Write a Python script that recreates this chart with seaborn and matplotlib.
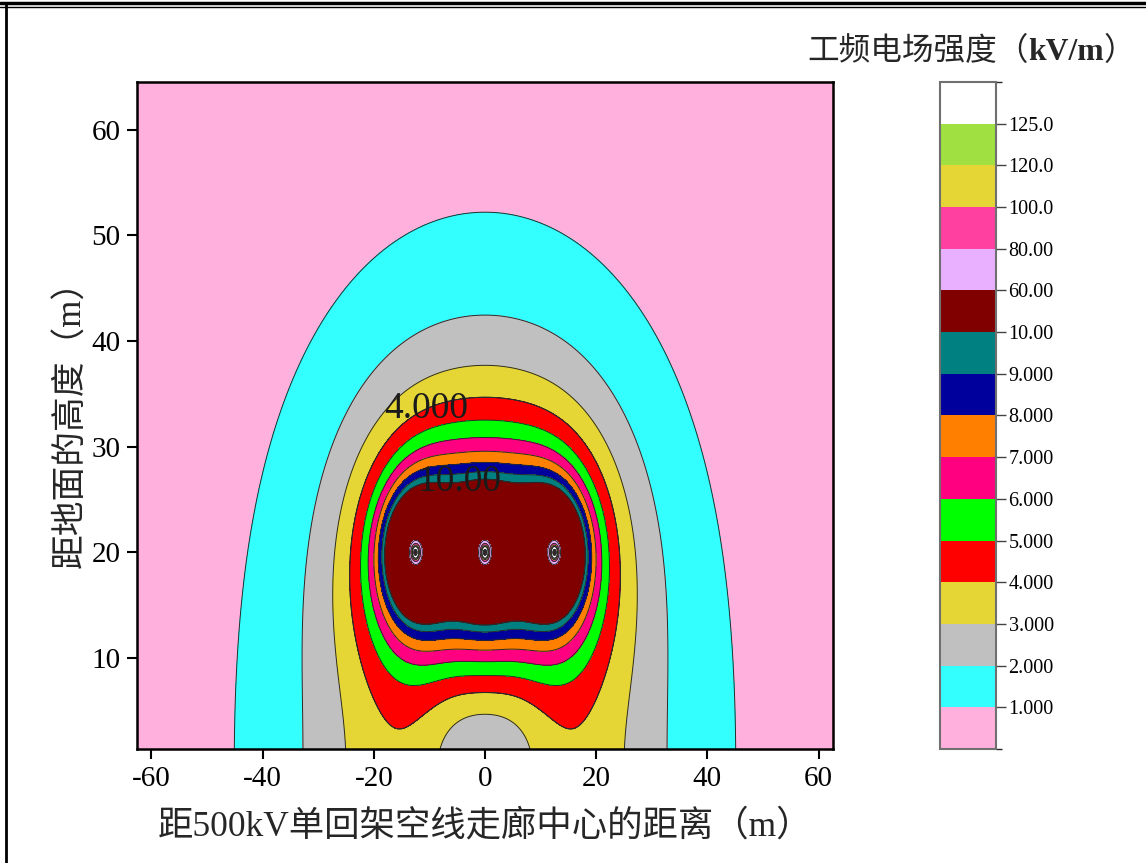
import numpy as np
import matplotlib
matplotlib.use("Agg")
import matplotlib.pyplot as plt
import seaborn as sns
from matplotlib.colors import ListedColormap, BoundaryNorm
from matplotlib.cm import ScalarMappable
from matplotlib.lines import Line2D

# ---- conductor layout of the 500 kV single-circuit line ----
phase_x = [-12.5, 0.0, 12.5]          # horizontal position of each phase (m)
phase_height = [20.0, 20.0, 20.0]     # height above ground (m)
phase_angle = [-120.0, 0.0, 120.0]    # phase angle (deg)
line_charge_kv = 68.5                 # q / (2*pi*eps0) per phase (kV)
conductor_radius = 0.4                # equivalent bundle radius (m)

x_range = (-62.6, 62.6)
y_range = (1.4, 64.5)

# ---- contour bands ----
levels = [0, 1, 2, 3, 4, 5, 6, 7, 8, 9, 10, 60, 80, 100, 120, 125, 1e5]
level_labels = ["1.000", "2.000", "3.000", "4.000", "5.000", "6.000", "7.000",
                "8.000", "9.000", "10.00", "60.00", "80.00", "100.0", "120.0", "125.0"]
band_colors = ["#FFB0DC", "#33FFFF", "#C0C0C0", "#E5D636", "#FF0000", "#00FF00",
               "#FF0080", "#FF8000", "#00009C", "#008080", "#800000", "#E8B0FF",
               "#FF40A0", "#E5D636", "#A0E040", "#FFFFFF"]
labelled_levels = [4, 10]
labelled_text = {4: "4.000", 10: "10.00"}
label_spots = [(-10.5, 33.6), (-4.6, 26.8)]

x_ticks = [-60, -40, -20, 0, 20, 40, 60]
y_ticks = [10, 20, 30, 40, 50, 60]

# ---- power-frequency field from the phase charges and their ground images ----
xs = np.linspace(x_range[0], x_range[1], 800)
ys = np.linspace(y_range[0], y_range[1], 800)
X, Y = np.meshgrid(xs, ys)
Ex = np.zeros(X.shape, dtype=complex)
Ey = np.zeros(X.shape, dtype=complex)
for xc, hc, ang in zip(phase_x, phase_height, phase_angle):
    phasor = np.exp(1j * np.deg2rad(ang))
    for yc, sign in ((hc, 1.0), (-hc, -1.0)):
        dx = X - xc
        dy = Y - yc
        r2 = np.maximum(dx ** 2 + dy ** 2, conductor_radius ** 2)
        Ex += sign * line_charge_kv * phasor * dx / r2
        Ey += sign * line_charge_kv * phasor * dy / r2
E = np.sqrt(np.abs(Ex) ** 2 + np.abs(Ey) ** 2)
E = np.clip(E, 0, levels[-1] * 0.99)

# ---- styling ----
sns.set_theme(style="ticks")
plt.rcParams["font.family"] = ["Liberation Serif", "Noto Sans CJK SC"]
plt.rcParams["axes.unicode_minus"] = False

W, H = 1146, 863
fig = plt.figure(figsize=(W / 100, H / 100), dpi=100)
fig.patch.set_facecolor("white")

ax = fig.add_axes([137 / W, 1 - 749 / H, (833 - 137) / W, (749 - 82) / H])
ax.contourf(X, Y, E, levels=levels, colors=band_colors, antialiased=False)
ax.contour(X, Y, E, levels=levels[1:-1], colors="#2a2a2a", linewidths=0.7)
cs = ax.contour(X, Y, E, levels=labelled_levels, colors="#2a2a2a", linewidths=0.7)
texts = ax.clabel(cs, levels=labelled_levels, manual=label_spots, inline=False,
                  fmt=labelled_text, fontsize=27, colors="#1a1a1a")
for t in texts:
    t.set_rotation(0)
    t.set_fontweight("light")

ax.set_xlim(*x_range)
ax.set_ylim(*y_range)
ax.set_xticks(x_ticks)
ax.set_yticks(y_ticks)
ax.set_xticklabels([str(v) for v in x_ticks])
ax.tick_params(axis="both", which="both", direction="out", length=7, width=1.5,
               labelsize=21, colors="black", pad=5)
for s in ax.spines.values():
    s.set_linewidth(1.8)
    s.set_color("black")

ax.set_xlabel("距500kV单回架空线走廊中心的距离（m）", fontsize=25.5, labelpad=13)
ax.set_ylabel("距地面的高度（m）", fontsize=25, labelpad=2)

# ---- colour bar ----
cax = fig.add_axes([940 / W, 1 - 749 / H, 56 / W, (749 - 82) / H])
cmap = ListedColormap(band_colors)
norm = BoundaryNorm(levels, cmap.N)
cb = fig.colorbar(ScalarMappable(norm=norm, cmap=cmap), cax=cax,
                  boundaries=levels, spacing="uniform", ticks=levels[1:-1])
cb.ax.set_yticklabels(level_labels)
cb.ax.tick_params(length=7, width=1, colors="#444444", labelsize=14.5, pad=2)
for lab in cb.ax.get_yticklabels():
    lab.set_color("black")
cb.outline.set_edgecolor("#707070")
cb.outline.set_linewidth(1.5)

# colour bar title: Chinese part regular, unit in bold
y_title = 1 - 60 / H
t1 = fig.text(807 / W, y_title, "工频电场强度（", fontsize=22.8, va="baseline", ha="left")
t2 = ax.annotate("kV/m", xy=(1, y_title), xycoords=(t1, "figure fraction"),
                 fontsize=22.8, fontweight="bold", va="baseline", ha="left",
                 annotation_clip=False)
t3 = ax.annotate("）", xy=(1, y_title), xycoords=(t2, "figure fraction"),
                 fontsize=22.8, va="baseline", ha="left", annotation_clip=False)

# page frame
fig.add_artist(Line2D([0, 1], [1 - 3 / H, 1 - 3 / H], transform=fig.transFigure,
                      color="black", linewidth=2.5))
fig.add_artist(Line2D([0, 1], [1 - 7.5 / H, 1 - 7.5 / H], transform=fig.transFigure,
                      color="black", linewidth=1.0))
fig.add_artist(Line2D([6 / W, 6 / W], [0, 1 - 3 / H], transform=fig.transFigure,
                      color="black", linewidth=2.0))

fig.savefig("out.png", dpi=100, facecolor="white")
